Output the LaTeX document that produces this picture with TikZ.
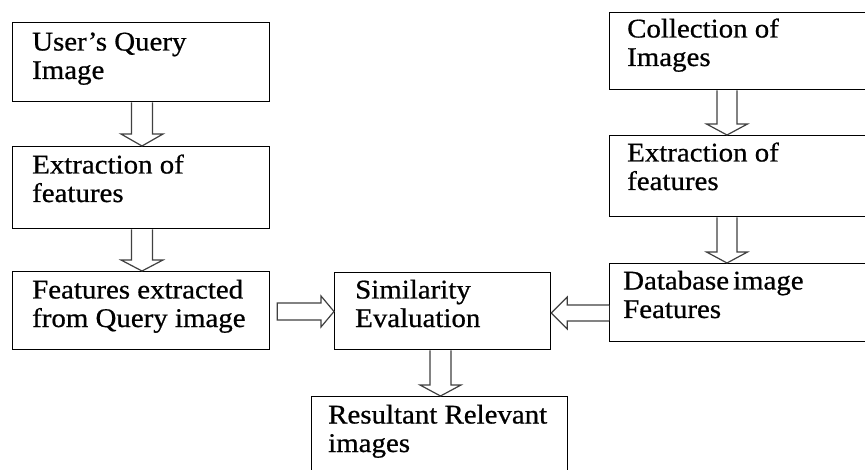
\documentclass[tikz,border=0pt]{standalone}
\usepackage{fontspec}
\setmainfont[FakeStretch=1.07,FakeBold=0.7]{Liberation Serif}
\usetikzlibrary{calc}
\begin{document}
\begin{tikzpicture}[x=1pt,y=-1pt,
  box/.style={draw=black,line width=1.3pt,rectangle,inner sep=0pt,anchor=north west},
  lbl/.style={anchor=base west,inner sep=0pt,align=left,font=\fontsize{27}{28.5}\selectfont},
  blk/.style={draw=black!75,line width=1.2pt,fill=white,line join=miter}]
\useasboundingbox (0,0) rectangle (865,470);
\clip (0,0) rectangle (865,470);
% boxes
\node[box,minimum width=257pt,minimum height=79pt] (q) at (12,22) {};
\node[box,minimum width=257pt,minimum height=82pt] (ex1) at (12,146) {};
\node[box,minimum width=257pt,minimum height=78pt] (fq) at (12,271) {};
\node[box,minimum width=216pt,minimum height=77pt] (sim) at (334,272) {};
\node[box,minimum width=256pt,minimum height=90pt] (res) at (311,396) {};
\node[box,minimum width=270pt,minimum height=77pt] (col) at (609,12) {};
\node[box,minimum width=270pt,minimum height=81pt] (ex2) at (609,135) {};
\node[box,minimum width=270pt,minimum height=78pt] (db) at (609,263) {};
% labels (anchored at the baseline of the last line)
\node[lbl] (tq) at (32,79) {User’s Query\\Image};
\node[lbl] (tex1) at (32,202) {Extraction of\\features};
\node[lbl] (tfq) at (32,327) {Features extracted\\from Query image};
\node[lbl] (tsim) at (355,327) {Similarity\\Evaluation};
\node[lbl] (tres) at (328,452) {Resultant Relevant\\images};
\node[lbl] (tcol) at (627,66) {Collection of\\Images};
\node[lbl] (tex2) at (627,190) {Extraction of\\features};
\node[lbl] (tdb) at (623,318) {Database\hspace{-0.12em} image\\Features};
% block arrows
\coordinate (a1) at (142,0);
\draw[blk] (a1 |- q.south) ++(-10.5,0) -- ($(a1 |- ex1.north)+(-10.5,-12)$) -- ($(a1 |- ex1.north)+(-21,-12)$) -- (a1 |- ex1.north) -- ($(a1 |- ex1.north)+(21,-12)$) -- ($(a1 |- ex1.north)+(10.5,-12)$) -- ($(a1 |- q.south)+(10.5,0)$);
\draw[blk] (a1 |- ex1.south) ++(-10.5,0) -- ($(a1 |- fq.north)+(-10.5,-11)$) -- ($(a1 |- fq.north)+(-21,-11)$) -- (a1 |- fq.north) -- ($(a1 |- fq.north)+(21,-11)$) -- ($(a1 |- fq.north)+(10.5,-11)$) -- ($(a1 |- ex1.south)+(10.5,0)$);
\coordinate (a2) at (727,0);
\draw[blk] (a2 |- col.south) ++(-10,0) -- ($(a2 |- ex2.north)+(-10,-11)$) -- ($(a2 |- ex2.north)+(-20.5,-11)$) -- (a2 |- ex2.north) -- ($(a2 |- ex2.north)+(20.5,-11)$) -- ($(a2 |- ex2.north)+(10,-11)$) -- ($(a2 |- col.south)+(10,0)$);
\draw[blk] (a2 |- ex2.south) ++(-10,0) -- ($(a2 |- db.north)+(-10,-11)$) -- ($(a2 |- db.north)+(-20.5,-11)$) -- (a2 |- db.north) -- ($(a2 |- db.north)+(20.5,-11)$) -- ($(a2 |- db.north)+(10,-11)$) -- ($(a2 |- ex2.south)+(10,0)$);
\coordinate (a3) at (440.5,0);
\draw[blk] (a3 |- sim.south) ++(-10.5,0) -- ($(a3 |- res.north)+(-10.5,-11)$) -- ($(a3 |- res.north)+(-20.5,-11)$) -- (a3 |- res.north) -- ($(a3 |- res.north)+(20.5,-11)$) -- ($(a3 |- res.north)+(10.5,-11)$) -- ($(a3 |- sim.south)+(10.5,0)$);
% horizontal arrows
\coordinate (h1) at (0,311.5);
\draw[blk] ($(h1 -| fq.east)+(7,-8.5)$) -- ($(h1 -| sim.west)+(-13,-8.5)$) -- ($(h1 -| sim.west)+(-13,-15.5)$) -- (h1 -| sim.west) -- ($(h1 -| sim.west)+(-13,15.5)$) -- ($(h1 -| sim.west)+(-13,8.5)$) -- ($(h1 -| fq.east)+(7,8.5)$) -- cycle;
\coordinate (h2) at (0,313);
\draw[blk] ($(h2 -| db.west)+(0,-8)$) -- ($(h2 -| sim.east)+(16,-8)$) -- ($(h2 -| sim.east)+(16,-16)$) -- (h2 -| sim.east) -- ($(h2 -| sim.east)+(16,16)$) -- ($(h2 -| sim.east)+(16,8)$) -- ($(h2 -| db.west)+(0,8)$);
\end{tikzpicture}
\end{document}
